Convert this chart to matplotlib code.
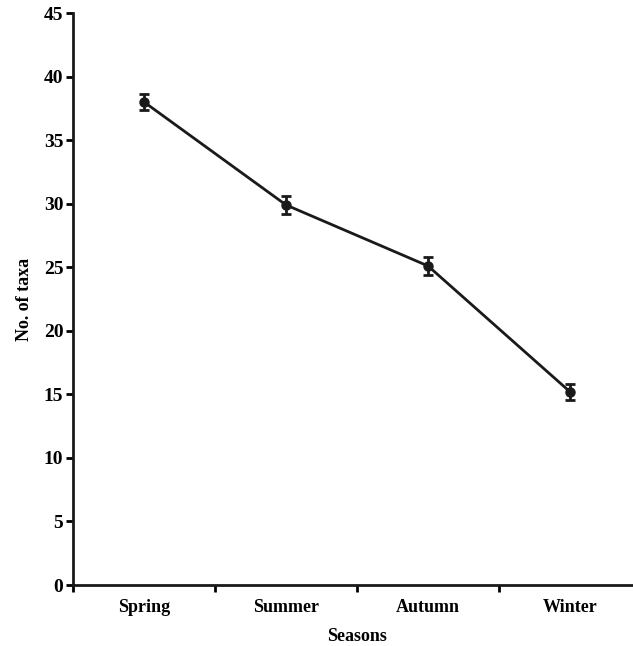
import matplotlib.pyplot as plt
import numpy as np

seasons = ["Spring", "Summer", "Autumn", "Winter"]
taxa = [38.0, 29.9, 25.1, 15.2]
err = [0.65, 0.7, 0.7, 0.65]

plt.rcParams['font.family'] = 'Liberation Serif'
plt.rcParams['font.weight'] = 'bold'

fig = plt.figure(figsize=(6.33, 6.46), dpi=100)
ax = fig.add_axes([73/633, 1-585/646, 568/633, 572/646])

x = np.arange(len(seasons))
ax.errorbar(x, taxa, yerr=err, color='#1a1a1a', lw=2, marker='o', ms=6.5,
            capsize=3.5, capthick=2, elinewidth=2)

ax.set_xlim(-0.5, 3.5)
ax.set_ylim(0, 45)
ax.set_yticks(np.arange(0, 46, 5))
ax.set_xticks(x)
ax.set_xticklabels(seasons, fontsize=13, fontweight='bold')
ax.set_xticks([-0.5, 0.5, 1.5, 2.5], minor=True)
ax.tick_params(axis='x', which='major', length=0, pad=10)
ax.tick_params(axis='x', which='minor', length=5, width=2, direction='out')
ax.tick_params(axis='y', length=5, width=2, labelsize=14, pad=2)
for lab in ax.get_yticklabels():
    lab.set_fontweight('bold')

for s in ['top', 'right']:
    ax.spines[s].set_visible(False)
for s in ['left', 'bottom']:
    ax.spines[s].set_linewidth(2)
    ax.spines[s].set_color('#1a1a1a')

ax.set_xlabel("Seasons", fontsize=13, fontweight='bold', labelpad=9)
ax.set_ylabel("No. of taxa", fontsize=13, fontweight='bold', labelpad=8)

fig.savefig("out.png", dpi=100)
